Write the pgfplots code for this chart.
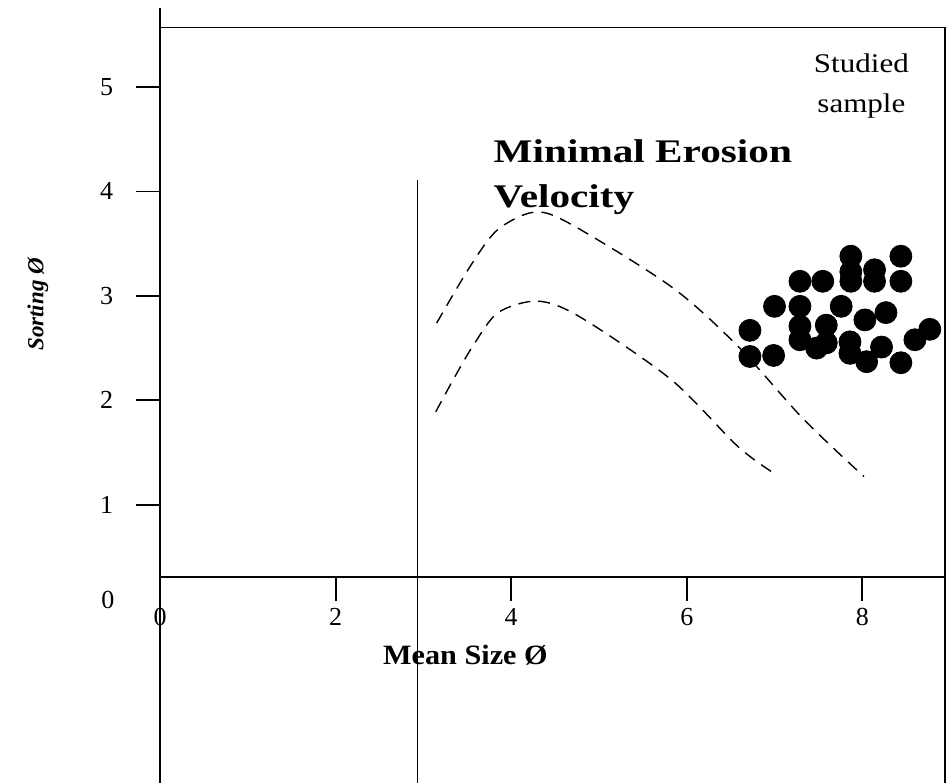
\documentclass[border=0pt]{standalone}
\usepackage{fontspec}
\setmainfont{Liberation Serif}
\usepackage{pgfplots}
\pgfplotsset{compat=1.18}

\begin{document}
\begin{tikzpicture}
  \begin{axis}[
      x=43.9pt, y=52.25pt,
      xmin=0, xmax=8.94, ymin=0.31, ymax=5.57,
      clip=false,
      axis line style={line width=0.9pt},
      xtick={0,2,4,6,8}, ytick={1,2,3,4,5},
      xtick pos=bottom, ytick pos=left,
      tick align=outside, major tick length=12pt,
      tick style={line width=0.9pt, black},
      /pgf/number format/assume math mode=true,
      ticklabel style={font=\fontsize{13}{15}\selectfont},
      yticklabel style={xshift=-8pt},
      xlabel={Mean Size Ø},
      xlabel style={at={(axis description cs:0.389,-0.142)}, anchor=center,
        font=\bfseries\fontsize{14}{16}\selectfont, xscale=1.08},
      ylabel={Sorting Ø},
      ylabel style={at={(axis description cs:-0.156,0.496)}, anchor=center,
        font=\bfseries\itshape\fontsize{11.5}{13}\selectfont},
    ]
    % picture frame, same extent as the scan
    \path (axis cs:-1.826,5.833) rectangle (axis cs:9.0,-1.66);
    % lines running past the box
    \draw[line width=0.9pt] (axis cs:0,5.76) -- (axis cs:0,-1.66);
    \draw[line width=0.9pt] (axis cs:8.94,0.31) -- (axis cs:8.94,-1.66);
    \draw[line width=0.8pt] (axis cs:2.93,4.11) -- (axis cs:2.93,-1.66);
    \node[font=\fontsize{13}{15}\selectfont] at (axis cs:-0.596,0.09) {0};

    % minimal erosion velocity envelope
    \addplot[black, line width=0.7pt, dash pattern=on 6pt off 4pt, smooth] coordinates {
      (3.15,2.74) (3.53,3.28) (3.84,3.63) (4.25,3.80) (4.65,3.70)
      (5.82,3.09) (6.58,2.52) (7.33,1.82) (8.02,1.27)};
    \addplot[black, line width=0.7pt, dash pattern=on 6pt off 4pt, smooth] coordinates {
      (3.14,1.89) (3.34,2.20) (3.57,2.53) (3.85,2.84) (4.3,2.95)
      (4.78,2.80) (5.82,2.20) (6.58,1.56) (6.98,1.31)};

    % studied sample
    \addplot[only marks, mark=*, mark size=5.5pt, black] coordinates {
      (7.87,3.38) (7.87,3.23) (7.87,3.14) (8.14,3.25) (8.14,3.14)
      (8.44,3.38) (8.44,3.14) (7.29,3.14) (7.55,3.14) (7.00,2.90)
      (7.29,2.90) (7.76,2.90) (8.03,2.77) (8.27,2.84) (6.72,2.67)
      (6.72,2.42) (6.99,2.43) (7.29,2.71) (7.29,2.58) (7.59,2.72)
      (7.48,2.50) (7.59,2.55) (7.86,2.56) (7.86,2.45) (8.05,2.37)
      (8.22,2.51) (8.44,2.36) (8.60,2.58) (8.77,2.68)};

    % base anchor of a two-line node = baseline of its last line
    \node[anchor=base west, align=left, font=\bfseries\fontsize{16.5}{22.5}\selectfont, xscale=1.25]
      at (axis cs:3.70,3.85) {Minimal Erosion\\Velocity};
    \node[anchor=base, align=center, font=\fontsize{13.5}{20}\selectfont, xscale=1.15]
      at (axis cs:7.99,4.76) {Studied\\sample};
  \end{axis}
\end{tikzpicture}
\end{document}
